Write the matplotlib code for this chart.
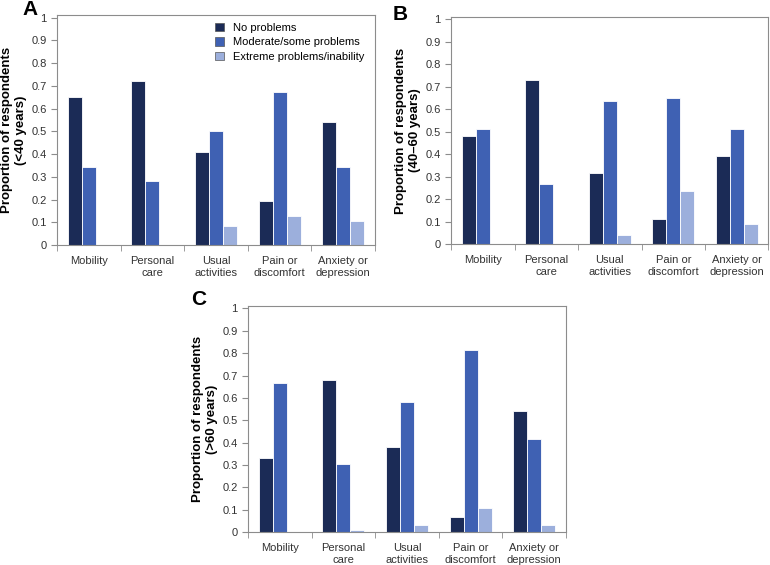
import matplotlib.pyplot as plt
import numpy as np

plt.rcParams['font.family'] = ['Liberation Sans', 'DejaVu Sans']

categories = ['Mobility', 'Personal\ncare', 'Usual\nactivities', 'Pain or\ndiscomfort', 'Anxiety or\ndepression']
series = ['No problems', 'Moderate/some problems', 'Extreme problems/inability']
colors = ['#1b2b56', '#3f61b3', '#9cafdc']

# A: <40 years
a_none = [0.65, 0.72, 0.41, 0.195, 0.54]
a_mod = [0.345, 0.28, 0.50, 0.672, 0.345]
a_ext = [0.0, 0.0, 0.085, 0.128, 0.105]

# B: 40-60 years
b_none = [0.48, 0.73, 0.318, 0.113, 0.39]
b_mod = [0.513, 0.265, 0.637, 0.648, 0.513]
b_ext = [0.0, 0.0, 0.04, 0.237, 0.09]

# C: >60 years
c_none = [0.333, 0.68, 0.38, 0.07, 0.54]
c_mod = [0.667, 0.305, 0.58, 0.813, 0.418]
c_ext = [0.0, 0.01, 0.033, 0.11, 0.033]

fig = plt.figure(figsize=(7.7, 5.65), dpi=100)

# letter, axes rect, y label second line, data, letter position (axes fraction)
panels = [
    ('A', [0.074, 0.566, 0.413, 0.407], '(<40 years)', (a_none, a_mod, a_ext), (-0.085, 1.026)),
    ('B', [0.586, 0.568, 0.412, 0.402], '(40\u201360 years)', (b_none, b_mod, b_ext), (-0.16, 1.01)),
    ('C', [0.322, 0.058, 0.413, 0.400], '(>60 years)', (c_none, c_mod, c_ext), (-0.154, 1.03)),
]

x = np.arange(len(categories))
w = 0.22
frame = '#8c8c8c'

for letter, rect, ylab, data, lpos in panels:
    ax = fig.add_axes(rect)
    for i, vals in enumerate(data):
        ax.bar(x + (i - 1) * w, vals, width=w, color=colors[i],
               edgecolor='white', linewidth=0.6, label=series[i])
    ax.set_xlim(-0.5, len(categories) - 0.5)
    ax.set_ylim(0, 1.01)
    ax.set_yticks(np.arange(0, 1.01, 0.1))
    ax.set_yticklabels(['0', '0.1', '0.2', '0.3', '0.4', '0.5', '0.6', '0.7', '0.8', '0.9', '1'])
    ax.set_xticks(x)
    ax.set_xticklabels(categories, fontsize=8, color='#333333')
    ax.set_xticks(np.arange(-0.5, len(categories), 1.0), minor=True)
    ax.tick_params(axis='x', which='major', length=0, pad=8)
    ax.tick_params(axis='x', which='minor', length=4, color=frame, direction='out')
    ax.tick_params(axis='y', length=4, color=frame, direction='out', labelsize=8,
                   labelcolor='#333333')
    for s in ax.spines.values():
        s.set_color(frame)
        s.set_linewidth(0.8)
    ax.set_ylabel('Proportion of respondents\n' + ylab, fontsize=9.5,
                  fontweight='bold', labelpad=3)
    ax.text(lpos[0], lpos[1], letter, transform=ax.transAxes, fontsize=15,
            fontweight='bold', ha='center', va='center')
    if letter == 'A':
        ax.legend(loc='upper left', bbox_to_anchor=(0.467, 1.01), frameon=False,
                  fontsize=8, handlelength=0.8, handleheight=0.8,
                  handletextpad=0.8, labelspacing=0.38)
        for h in ax.get_legend().legend_handles:
            h.set_edgecolor('#555555')
            h.set_linewidth(0.5)

fig.savefig('out.png', dpi=100)
